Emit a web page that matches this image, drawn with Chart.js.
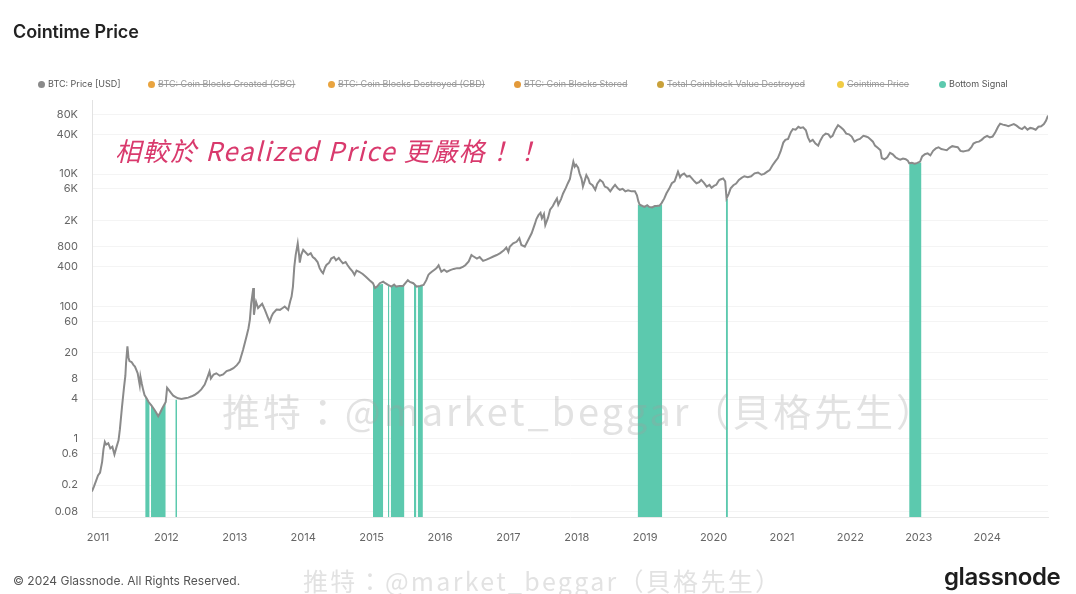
<!DOCTYPE html>
<html>
<head>
<meta charset="utf-8">
<script src="https://cdn.jsdelivr.net/npm/chart.js@4.4.1/dist/chart.umd.min.js"></script>
<style>
  html, body { margin: 0; padding: 0; background: #fff; }
  body { width: 1076px; height: 594px; position: relative; overflow: hidden; font-family: Inter, "Noto Sans", sans-serif; }
  #wrap { position: absolute; left: 0; top: 0; width: 1076px; height: 594px; }
  .title { position: absolute; left: 13px; top: 21px; font-size: 18px; font-weight: 600; color: #222; letter-spacing: -0.1px; }
  .legend-item { position: absolute; top: 78px; font-size: 9px; color: #555; white-space: nowrap; line-height: 12px; }
  .legend-item .dot { display: inline-block; width: 7px; height: 7px; border-radius: 50%; margin-right: 3px; vertical-align: -0.5px; }
  .legend-item.off { color: #999; text-decoration: line-through; }
  .note { position: absolute; left: 115px; top: 131px; font-family: "Noto Sans CJK TC", sans-serif; font-size: 26px; color: #d93a6d; font-style: italic; letter-spacing: 1.6px; white-space: nowrap; }
  .wm { position: absolute; color: rgba(160,160,160,0.3); white-space: nowrap; font-family: "Noto Sans CJK TC", sans-serif; pointer-events: none; }
  .footer { position: absolute; left: 13px; top: 573px; font-size: 12px; color: #555; }
  .logo { position: absolute; left: 944px; top: 562px; font-size: 24px; font-weight: 600; color: #1d1d1d; letter-spacing: -0.4px; }
</style>
</head>
<body>
<div id="wrap"><canvas id="c" width="1076" height="594"></canvas></div>
<div class="title">Cointime Price</div>
<div id="legend"></div>
<div class="note">相較於 Realized Price 更嚴格！！</div>
<div class="wm" style="left:222px; top:382px; font-size:38px; letter-spacing:2.9px;">推特：@market_beggar（貝格先生）</div>
<div class="footer">© 2024 Glassnode. All Rights Reserved.</div>
<div class="wm" style="left:303px; top:562px; font-size:25px; letter-spacing:2.3px;">推特：@market_beggar（貝格先生）</div>
<div class="logo">glassnode</div>
<script>
// ---------- data ----------
const legendNames = ["BTC: Price [USD]", "BTC: Coin Blocks Created (CBC)", "BTC: Coin Blocks Destroyed (CBD)", "BTC: Coin Blocks Stored", "Total Coinblock Value Destroyed", "Cointime Price", "Bottom Signal"];
const legendColors = ["#8a8a8a", "#e9a43f", "#e9a43f", "#e39a3a", "#c9a13a", "#f1cc45", "#5cc9ae"];
const legendHidden = [false, true, true, true, true, true, false];
const legendLeft = [38, 148, 328, 514, 657, 837, 939];

const yearTicks = [2011, 2012, 2013, 2014, 2015, 2016, 2017, 2018, 2019, 2020, 2021, 2022, 2023, 2024];
const priceTickValues = [0.08, 0.2, 0.6, 1, 4, 8, 20, 60, 100, 400, 800, 2000, 6000, 10000, 40000, 80000];
const priceTickLabels = ["0.08", "0.2", "0.6", "1", "4", "8", "20", "60", "100", "400", "800", "2K", "6K", "10K", "40K", "80K"];

const priceYears = [
2010.91,2010.94,2010.97,2011.00,2011.03,2011.06,2011.08,2011.10,2011.12,2011.15,2011.18,2011.21,2011.24,2011.27,2011.30,2011.32,2011.35,2011.38,2011.40,2011.41,2011.43,2011.445,2011.46,2011.49,2011.52,2011.54,2011.56,2011.58,2011.61,2011.62,2011.64,2011.66,2011.68,2011.71,2011.74,2011.78,2011.82,2011.85,2011.88,2011.91,2011.94,2011.97,2011.99,
2012.01,2012.04,2012.07,2012.10,2012.13,2012.17,2012.22,2012.27,2012.32,2012.37,2012.41,2012.46,2012.51,2012.56,2012.60,2012.63,2012.65,2012.69,2012.73,2012.78,2012.83,2012.88,2012.93,2012.98,
2013.03,2013.07,2013.12,2013.17,2013.20,2013.22,2013.24,2013.27,2013.28,2013.30,2013.31,2013.34,2013.36,2013.40,2013.44,2013.48,2013.51,2013.54,2013.56,2013.61,2013.66,2013.70,2013.73,2013.78,2013.81,2013.83,2013.85,2013.87,2013.89,2013.92,2013.94,2013.95,2013.97,
2014.00,2014.04,2014.07,2014.11,2014.14,2014.17,2014.21,2014.24,2014.27,2014.29,2014.32,2014.34,2014.38,2014.41,2014.45,2014.48,2014.52,2014.56,2014.58,2014.62,2014.65,2014.68,2014.72,2014.75,2014.78,2014.82,2014.87,2014.92,2014.97,
2015.02,2015.05,2015.08,2015.12,2015.17,2015.20,2015.24,2015.29,2015.33,2015.36,2015.41,2015.46,2015.50,2015.53,2015.56,2015.61,2015.66,2015.71,2015.76,2015.80,2015.83,2015.85,2015.88,2015.92,2015.95,2015.98,
2016.02,2016.06,2016.10,2016.15,2016.20,2016.25,2016.29,2016.34,2016.37,2016.42,2016.46,2016.48,2016.54,2016.58,2016.63,2016.68,2016.73,2016.78,2016.83,2016.88,2016.93,2016.97,
2017.00,2017.02,2017.07,2017.12,2017.16,2017.19,2017.24,2017.29,2017.34,2017.39,2017.41,2017.44,2017.47,2017.49,2017.52,2017.54,2017.58,2017.61,2017.65,2017.68,2017.71,2017.73,2017.77,2017.80,2017.84,2017.87,2017.90,2017.92,2017.95,2017.97,2017.99,
2018.02,2018.04,2018.07,2018.09,2018.12,2018.14,2018.17,2018.19,2018.23,2018.27,2018.30,2018.34,2018.38,2018.41,2018.45,2018.49,2018.53,2018.56,2018.60,2018.63,2018.67,2018.71,2018.75,2018.80,2018.85,2018.88,2018.90,2018.92,2018.96,2018.99,
2019.03,2019.06,2019.10,2019.14,2019.17,2019.21,2019.24,2019.28,2019.31,2019.35,2019.39,2019.43,2019.46,2019.48,2019.51,2019.53,2019.57,2019.61,2019.65,2019.68,2019.72,2019.75,2019.79,2019.82,2019.86,2019.90,2019.94,2019.97,
2020.01,2020.04,2020.08,2020.10,2020.14,2020.17,2020.19,2020.22,2020.25,2020.29,2020.33,2020.37,2020.41,2020.45,2020.50,2020.55,2020.60,2020.65,2020.70,2020.74,2020.78,2020.82,2020.86,2020.90,2020.94,2020.98,
2021.02,2021.05,2021.09,2021.13,2021.16,2021.20,2021.24,2021.27,2021.31,2021.35,2021.38,2021.41,2021.45,2021.49,2021.53,2021.56,2021.60,2021.64,2021.68,2021.71,2021.74,2021.78,2021.82,2021.86,2021.90,2021.94,2021.98,
2022.02,2022.06,2022.10,2022.14,2022.19,2022.23,2022.26,2022.30,2022.33,2022.36,2022.40,2022.44,2022.46,2022.50,2022.54,2022.58,2022.62,2022.66,2022.70,2022.73,2022.77,2022.81,2022.84,2022.86,2022.90,2022.94,2022.98,
2023.02,2023.05,2023.09,2023.13,2023.17,2023.21,2023.25,2023.29,2023.33,2023.37,2023.41,2023.45,2023.49,2023.53,2023.57,2023.61,2023.65,2023.69,2023.73,2023.77,2023.80,2023.84,2023.88,2023.92,2023.96,
2024.00,2024.04,2024.08,2024.12,2024.16,2024.19,2024.23,2024.27,2024.31,2024.35,2024.39,2024.43,2024.47,2024.51,2024.55,2024.59,2024.63,2024.67,2024.71,2024.75,2024.79,2024.83,2024.86,2024.89
];
const priceUsd = [
0.16,0.19,0.23,0.28,0.31,0.45,0.7,0.9,0.82,0.86,0.72,0.76,0.58,0.75,0.95,1.4,3,6,9,14,25,17,15,14.5,13,12.4,11,9.8,6.5,8.7,6.8,5.5,4.6,4.1,3.6,3.2,2.8,2.5,2.2,2.5,2.9,3.3,3.6,
5.9,5.4,4.9,4.5,4.3,4.1,4.0,4.1,4.2,4.4,4.6,5.0,5.6,6.6,8.5,10.4,8.2,9.4,9.8,9.0,9.4,10.6,11,11.7,
13,14.7,22,35,47,63,112,190,75,105,118,95,100,110,89,70,59,72,79,90,89,95,100,89,120,141,200,400,600,900,600,460,600,
720,650,600,640,560,530,470,380,335,317,390,425,460,530,560,500,540,475,450,470,420,380,340,300,350,335,310,280,250,
225,190,200,225,238,225,212,200,215,200,205,205,230,250,235,225,200,205,212,250,300,317,335,360,380,420,
335,360,335,355,370,380,380,400,420,480,600,580,530,560,490,510,540,570,600,640,700,780,
670,800,900,950,1080,850,800,1010,1280,1800,2100,2400,2600,2150,2500,1700,2200,2900,3300,3800,4300,3450,4200,5100,6200,7300,8500,10900,15400,13000,13900,
12500,10300,8500,6500,8200,9700,8500,7300,6800,5800,7200,8200,7600,6500,6200,5500,6300,6900,6100,5800,6000,5500,5700,5500,5500,4800,3900,3450,3300,3200,
3400,3200,3150,3300,3300,3350,3650,4300,5100,6000,7300,7800,9500,10900,9000,9700,10200,9200,9400,8700,7800,7300,7600,8200,7400,6500,6900,6200,
6700,6900,8100,8300,8600,7800,4300,5000,6100,6800,7200,8200,8800,9300,9000,9300,10300,10600,9800,10100,10800,11500,13500,15500,17500,22000,
30000,33000,34000,43000,48000,47000,52000,50000,51000,46000,36000,31000,33000,29000,27000,32000,38000,41000,40000,36000,38000,47000,55000,51000,47000,41000,40000,
37000,31000,33000,34000,38000,37000,36000,33000,31000,27000,25000,23000,17500,16800,18000,21000,20000,18000,17000,16500,17200,16800,16000,14600,14800,14400,14800,
15500,18500,20000,20600,19200,22500,24500,25500,24000,23500,23000,25000,26500,26000,25500,22500,22000,22500,23000,25500,29000,30500,31000,33000,36000,
38000,36000,37000,43000,52000,58000,56000,55000,53000,55000,57000,54000,50000,48000,52000,47000,50000,49000,47000,52000,53000,57000,64000,77000
];

// Bottom Signal: top of each green band (price while the signal is on); null separates bands
const signalYears = [
2011.69,2011.72,2011.755,null,2011.775,2011.82,2011.85,2011.88,2011.91,2011.94,2011.99,null,
2012.13,2012.155,null,
2015.02,2015.05,2015.08,2015.12,2015.17,null,
2015.24,2015.26,null,2015.28,2015.33,2015.36,2015.41,2015.48,null,
2015.62,2015.655,null,2015.675,2015.71,2015.75,null,
2018.89,2018.92,2018.96,2018.99,2019.03,2019.06,2019.10,2019.14,2019.17,2019.21,2019.25,null,
2020.18,2020.21,null,
2022.86,2022.90,2022.94,2022.98,2023.04
];
const signalUsd = [
4.4,3.9,3.5,null,3.3,2.8,2.5,2.2,2.5,2.9,3.5,null,
3.9,3.9,null,
225,200,200,215,220,null,
210,205,null,205,210,200,205,210,null,
215,205,null,200,205,210,null,
3500,3350,3250,3150,3300,3150,3100,3250,3250,3300,3550,null,
4200,4200,null,
14500,14600,14300,14600,15000
];

// ---------- legend ----------
const lg = document.getElementById('legend');
legendNames.forEach((n, i) => {
  const d = document.createElement('div');
  d.className = 'legend-item' + (legendHidden[i] ? ' off' : '');
  d.style.left = legendLeft[i] + 'px';
  d.innerHTML = '<span class="dot" style="background:' + legendColors[i] + '"></span>' + n;
  lg.appendChild(d);
});

// ---------- chart ----------
const priceData = priceYears.map((x, i) => ({ x: x, y: priceUsd[i] }));
const signalData = signalYears.map((x, i) => (x === null ? { x: NaN, y: null } : { x: x, y: signalUsd[i] }));

new Chart(document.getElementById('c'), {
  type: 'line',
  data: {
    datasets: [
      { label: legendNames[0], data: priceData, borderColor: '#8a8a8a', borderWidth: 2, pointRadius: 0, tension: 0, fill: false, order: 0 },
      { label: legendNames[6], data: signalData, borderColor: 'rgba(0,0,0,0)', borderWidth: 0, backgroundColor: '#5cc9ae', pointRadius: 0, fill: 'start', spanGaps: false, order: 1 }
    ]
  },
  options: {
    responsive: false,
    animation: false,
    parsing: true,
    layout: { padding: { left: 0, right: 28, top: 100, bottom: 0 } },
    plugins: { legend: { display: false }, tooltip: { enabled: false }, title: { display: false } },
    scales: {
      x: {
        type: 'linear', min: 2010.912, max: 2024.89,
        afterBuildTicks: s => { s.ticks = yearTicks.map(v => ({ value: v })); },
        afterFit: s => { s.height = 77; },
        grid: { display: false, drawTicks: false },
        border: { display: true, color: '#e8e8e8' },
        ticks: { padding: 14, color: '#666', font: { family: 'Inter', size: 11 }, maxRotation: 0, autoSkip: false, callback: v => String(v) }
      },
      y: {
        type: 'logarithmic', min: 0.066, max: 132000,
        afterBuildTicks: s => { s.ticks = priceTickValues.map(v => ({ value: v })); },
        afterFit: s => { s.width = 92; },
        grid: { color: '#f4f4f4', drawTicks: false },
        border: { display: true, color: '#e2e2e2' },
        ticks: { padding: 14, color: '#666', font: { family: 'Inter', size: 11 }, autoSkip: false,
          callback: (v, i) => priceTickLabels[i] }
      }
    }
  }
});
</script>
</body>
</html>
